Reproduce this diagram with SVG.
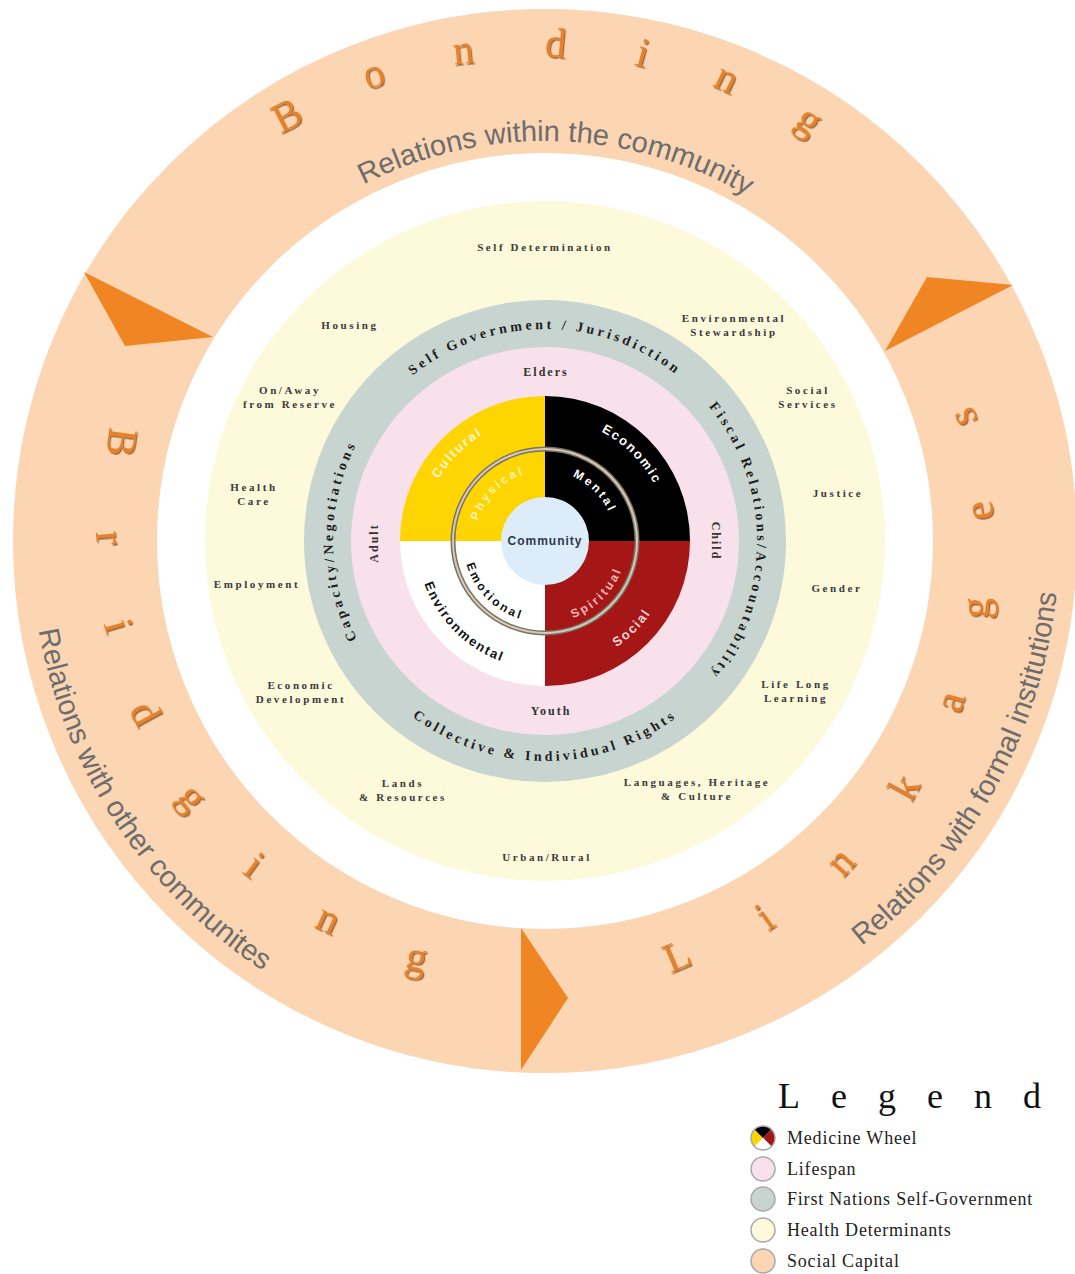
<svg xmlns="http://www.w3.org/2000/svg" width="1075" height="1274" viewBox="0 0 1075 1274">
<defs>
<filter id="emboss" x="-20%" y="-20%" width="140%" height="140%">
<feDropShadow dx="1.2" dy="1.6" stdDeviation="0.7" flood-color="#6b3306" flood-opacity="0.65"/>
</filter>
<path id="cw483" d="M545 1024 A483 483 0 1 1 545 58 A483 483 0 1 1 545 1024"/>
<path id="cw400" d="M545 941 A400 400 0 1 1 545 141 A400 400 0 1 1 545 941"/>
<path id="ccw447" d="M545 94 A447 447 0 1 0 545 988 A447 447 0 1 0 545 94"/>
<path id="ccw514" d="M545 27 A514 514 0 1 0 545 1055 A514 514 0 1 0 545 27"/>
<path id="cw212" d="M545 753 A212 212 0 1 1 545 329 A212 212 0 1 1 545 753"/>
<path id="ccw220" d="M545 321 A220 220 0 1 0 545 761 A220 220 0 1 0 545 321"/>
<path id="cw123" d="M545 664 A123 123 0 1 1 545 418 A123 123 0 1 1 545 664"/>
<path id="ccw128" d="M545 413 A128 128 0 1 0 545 669 A128 128 0 1 0 545 413"/>
<path id="cw70" d="M545 611 A70 70 0 1 1 545 471 A70 70 0 1 1 545 611"/>
<path id="ccw82" d="M545 459 A82 82 0 1 0 545 623 A82 82 0 1 0 545 459"/>
</defs>
<style>
.hd { font-family: "Liberation Serif", serif; font-weight: bold; font-size: 11px; letter-spacing: 2.6px; fill: #3a3a3a; text-anchor: middle; }
.gov { font-family: "Liberation Serif", serif; font-weight: bold; font-size: 14px; letter-spacing: 3.4px; fill: #1e1e1e; text-anchor: middle; }
.life { font-family: "Liberation Serif", serif; font-weight: bold; font-size: 12px; letter-spacing: 2px; fill: #333; text-anchor: middle; }
.mw { font-family: "Liberation Sans", sans-serif; font-weight: bold; font-size: 13px; letter-spacing: 1.8px; text-anchor: middle; }
.mwi { font-family: "Liberation Sans", sans-serif; font-weight: bold; font-size: 12px; letter-spacing: 2.6px; text-anchor: middle; }
.big { font-family: "Liberation Serif", serif; font-size: 42px; fill: #E8822B; filter: url(#emboss); }
.rel { font-family: "Liberation Sans", sans-serif; font-size: 29px; fill: #6d6d6d; }
.leg { font-family: "Liberation Serif", serif; font-size: 18px; fill: #222; letter-spacing: 0.8px; }
.arrow { fill: #F08623; }
.icon { stroke: #a9a9a9; stroke-width: 1.5; }
</style>
<rect x="0" y="0" width="1075" height="1274" fill="#ffffff"/>

<g id="social-capital">
<circle cx="545" cy="541" r="460" fill="none" stroke="#FCD5B2" stroke-width="144"/>
<text class="big"><textPath href="#cw483" startOffset="40.83%" letter-spacing="69">Bonding</textPath></text>
<text class="big"><textPath href="#ccw447" startOffset="20.89%" letter-spacing="78">Bridging</textPath></text>
<text class="big"><textPath href="#ccw447" startOffset="54.49%" letter-spacing="80">Linkages</textPath></text>
<text class="rel"><textPath href="#cw400" startOffset="42.5%">Relations within the community</textPath></text>
<text class="rel"><textPath href="#ccw514" startOffset="27.78%">Relations with other communites</textPath></text>
<text class="rel"><textPath href="#ccw514" startOffset="60.56%">Relations with formal institutions</textPath></text>
</g>

<g id="connectors">
<polygon class="arrow" points="84,272 213,337 125,346"/>
<polygon class="arrow" points="885,351 1013,285 927,277"/>
<polygon class="arrow" points="521,928 521,1070 568,998"/>
</g>

<g id="health-determinants">
<circle cx="545" cy="541" r="340" fill="#FDF9DB"/>
<text class="hd" x="545" y="251">Self Determination</text>
<text class="hd" x="350" y="329">Housing</text>
<text class="hd" x="734" y="322">Environmental</text>
<text class="hd" x="734" y="336">Stewardship</text>
<text class="hd" x="290" y="394">On/Away</text>
<text class="hd" x="290" y="408">from Reserve</text>
<text class="hd" x="808" y="394">Social</text>
<text class="hd" x="808" y="408">Services</text>
<text class="hd" x="254" y="491">Health</text>
<text class="hd" x="254" y="505">Care</text>
<text class="hd" x="838" y="497">Justice</text>
<text class="hd" x="257" y="588">Employment</text>
<text class="hd" x="837" y="592">Gender</text>
<text class="hd" x="301" y="689">Economic</text>
<text class="hd" x="301" y="703">Development</text>
<text class="hd" x="796" y="688">Life Long</text>
<text class="hd" x="796" y="702">Learning</text>
<text class="hd" x="403" y="787">Lands</text>
<text class="hd" x="403" y="801">&amp; Resources</text>
<text class="hd" x="697" y="786">Languages, Heritage</text>
<text class="hd" x="697" y="800">&amp; Culture</text>
<text class="hd" x="547" y="861">Urban/Rural</text>
</g>

<g id="self-government">
<circle cx="545" cy="541" r="241" fill="#C8D4D0"/>
<text class="gov"><textPath href="#cw212" startOffset="50%">Self Government / Jurisdiction</textPath></text>
<text class="gov"><textPath href="#cw212" startOffset="75%">Fiscal Relations/Accountability</textPath></text>
<text class="gov"><textPath href="#cw212" startOffset="25%">Capacity/Negotiations</textPath></text>
<text class="gov"><textPath href="#ccw220" startOffset="50%">Collective &amp; Individual Rights</textPath></text>
</g>

<g id="lifespan">
<circle cx="545" cy="541" r="194" fill="#F8E1EA"/>
<text class="life" x="546" y="376">Elders</text>
<text class="life" x="551" y="715">Youth</text>
<text class="life" transform="translate(378,543) rotate(-90)">Adult</text>
<text class="life" transform="translate(712,541) rotate(90)">Child</text>
</g>

<g id="medicine-wheel">
<path d="M545,541 L400,541 A145,145 0 0 1 545,396 Z" fill="#FED500"/>
<path d="M545,541 L545,396 A145,145 0 0 1 690,541 Z" fill="#000000"/>
<path d="M545,541 L690,541 A145,145 0 0 1 545,686 Z" fill="#A51616"/>
<path d="M545,541 L545,686 A145,145 0 0 1 400,541 Z" fill="#FFFFFF"/>
<circle cx="545" cy="541" r="92" fill="none" stroke="#7d7260" stroke-width="5"/>
<circle cx="545" cy="541" r="92" fill="none" stroke="#d3cabb" stroke-width="2"/>
<text class="mw" fill="#FFF6D6"><textPath href="#cw123" startOffset="37.5%">Cultural</textPath></text>
<text class="mw" fill="#FFFFFF"><textPath href="#cw123" startOffset="62.5%">Economic</textPath></text>
<text class="mw" fill="#F6D2D2"><textPath href="#ccw128" startOffset="62.5%">Social</textPath></text>
<text class="mw" fill="#111111"><textPath href="#ccw128" startOffset="37.5%">Environmental</textPath></text>
<text class="mwi" fill="#FFF3B8"><textPath href="#cw70" startOffset="37.5%">Physical</textPath></text>
<text class="mwi" fill="#FFFFFF"><textPath href="#cw70" startOffset="62.5%">Mental</textPath></text>
<text class="mwi" fill="#F4B6B6"><textPath href="#ccw82" startOffset="62.5%">Spiritual</textPath></text>
<text class="mwi" fill="#111111"><textPath href="#ccw82" startOffset="37.5%">Emotional</textPath></text>
</g>

<g id="community">
<circle cx="545" cy="541" r="44" fill="#DCECF8"/>
<text x="545" y="545" font-family="Liberation Sans, sans-serif" font-weight="bold" font-size="12" letter-spacing="1" fill="#2d3a4a" text-anchor="middle">Community</text>
</g>

<g id="legend">
<text x="778" y="1108" font-family="Liberation Serif, serif" font-size="36" letter-spacing="31" fill="#111">Legend</text>
<g id="legend-medicine-wheel">
<path d="M763,1138 L754.51,1146.49 A12,12 0 0 1 754.51,1129.51 Z" fill="#FED500"/>
<path d="M763,1138 L754.51,1129.51 A12,12 0 0 1 771.49,1129.51 Z" fill="#000"/>
<path d="M763,1138 L771.49,1129.51 A12,12 0 0 1 771.49,1146.49 Z" fill="#A51616"/>
<path d="M763,1138 L771.49,1146.49 A12,12 0 0 1 754.51,1146.49 Z" fill="#fff"/>
<circle class="icon" cx="763" cy="1138" r="12" fill="none"/>
<text class="leg" x="787" y="1144">Medicine Wheel</text>
</g>
<g id="legend-lifespan">
<circle class="icon" cx="763" cy="1169" r="12" fill="#F8E1EA"/>
<text class="leg" x="787" y="1175">Lifespan</text>
</g>
<g id="legend-self-government">
<circle class="icon" cx="763" cy="1199" r="12" fill="#C8D4D0"/>
<text class="leg" x="787" y="1205">First Nations Self-Government</text>
</g>
<g id="legend-health">
<circle class="icon" cx="763" cy="1230" r="12" fill="#FDF9DB"/>
<text class="leg" x="787" y="1236">Health Determinants</text>
</g>
<g id="legend-social-capital">
<circle class="icon" cx="763" cy="1261" r="12" fill="#FCD5B2"/>
<text class="leg" x="787" y="1267">Social Capital</text>
</g>
</g>
</svg>
